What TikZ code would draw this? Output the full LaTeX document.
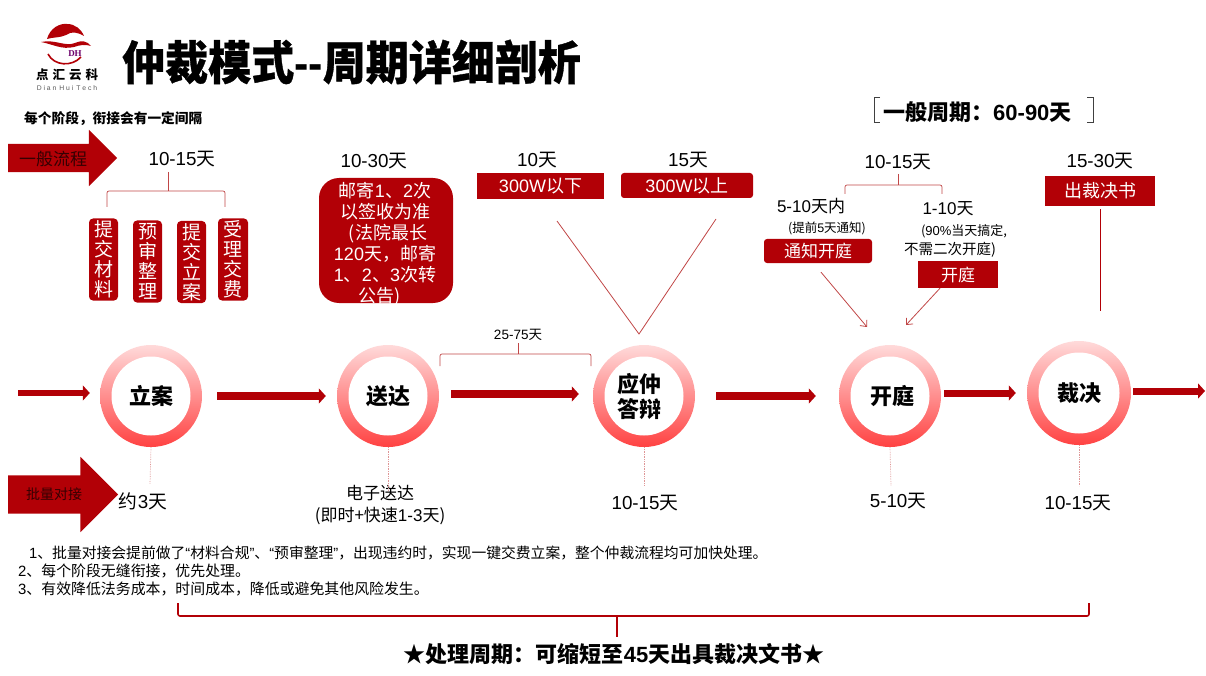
\documentclass[tikz,border=0pt]{standalone}
\usepackage{fontspec}
\setmainfont{Noto Sans CJK SC}
\newfontfamily\latn{Liberation Sans}
\newfontfamily\serifl{Liberation Serif}
\usetikzlibrary{arrows.meta,shapes.geometric,shapes.arrows,positioning}
\definecolor{darkred}{RGB}{178,0,6}
\definecolor{linered}{RGB}{192,70,70}
\definecolor{ringtop}{RGB}{255,218,218}
\definecolor{ringbot}{RGB}{255,66,66}
\definecolor{dotpink}{RGB}{222,150,150}
\newcommand{\fs}[1]{\fontsize{#1}{#1}\selectfont}
\newcommand{\nm}[1]{{\latn #1}}
\tikzset{
  ring/.style={shape=circle,inner sep=0pt,minimum size=102pt,top color=ringtop,bottom color=ringbot},
  hole/.style={shape=circle,inner sep=0pt,minimum size=79pt,fill=white,font=\fs{22}\bfseries,align=center},
  flow/.style={draw=darkred,line width=7pt,-{Triangle[width=15pt,length=7pt]}},
  redbox/.style={fill=darkred,text=white,inner sep=0pt,font=\fs{18}},
  vbox/.style={redbox,rounded corners=4pt,minimum width=29pt,minimum height=82pt,font=\fontsize{19}{20}\selectfont,align=center},
  days/.style={font=\fs{18.8}},
  brace/.style={draw=linered,line width=0.7pt,rounded corners=2pt},
  thin red/.style={draw=linered,line width=0.8pt},
  barb/.style={-{Straight Barb[length=5pt,width=9pt]}},
  dotted stem/.style={draw=dotpink,line width=0.7pt,densely dotted},
  note/.style={font=\fs{14.9},anchor=west,inner sep=0pt},
}
\begin{document}
\begin{tikzpicture}[x=1pt,y=-1pt]
\useasboundingbox (0,0) rectangle (1206,676);
% logo
\fill[darkred] (47,39) .. controls (50,28) and (60,23) .. (67,24) .. controls (75,24) and (81,29) .. (84,36) .. controls (77,32) and (72,31) .. (66,35) .. controls (60,38) and (53,37) .. (47,39) -- cycle;
\fill[darkred] (41,42) .. controls (55,39) and (65,47) .. (75,43) .. controls (82,40) and (87,41) .. (91,46) .. controls (85,44) and (80,45) .. (74,47) .. controls (62,50) and (52,44) .. (41,42) -- cycle;
\draw[darkred,line width=1.6pt] (48,54) .. controls (54,66) and (72,67) .. (81,57);
\node[inner sep=0pt] (dh) at (75,54) {\serifl\fs{9}\bfseries\color{darkred!60!blue}DH};
\node[inner sep=0pt] (logoname) at (67,75) {\fs{12.5}\bfseries 点\hspace{4pt}汇\hspace{4pt}云\hspace{4pt}科};
\node[inner sep=0pt] (logosub) at (67,88) {\latn\fs{6.8}\color{black!65}D i a n\, H u i\, T e c h};
% title
\node[anchor=west,inner sep=0pt,yscale=1.08] (title) at (122,62) {\fs{43}\bfseries\addfontfeature{FakeBold=0.8}仲裁模式{\latn -{}-}周期详细剖析};
\node[anchor=west,inner sep=0pt] (tip) at (24,119) {\fs{13.7}\bfseries 每个阶段，衔接会有一定间隔};
\node[anchor=west,inner sep=0pt] (cycle) at (883,112) {\fs{22}\bfseries 一般周期：\nm{60-90}天};
\draw[black!75,line width=0.8pt] (880,97) -- (874,97) -- (874,122) -- (880,122);
\draw[black!75,line width=0.8pt] (1087,97) -- (1093,97) -- (1093,122) -- (1087,122);
% big arrows
\node[shape=single arrow,fill=darkred,inner xsep=0pt,inner ysep=14pt,minimum height=109pt,minimum width=56pt,single arrow head extend=14pt] (general) at (55.5,158) {};
\node[font=\fs{17},text=black!70!darkred] (generaltxt) at (53,159) {一般流程};
\node[shape=single arrow,fill=darkred,inner xsep=0pt,inner ysep=19pt,minimum height=110pt,minimum width=75pt,single arrow head extend=18.5pt] (batch) at (53.5,494.5) {};
\node[font=\fs{14},text=black!70!darkred] (batchtxt) at (54,494) {批量对接};
% rings
\node[ring] (lian) at (151,396) {};
\node[hole] (lianin) at (lian) {\raisebox{2pt}{立案}};
\node[ring] (songda) at (388,396) {};
\node[hole] (songdain) at (songda) {\raisebox{2pt}{送达}};
\node[ring] (dabian) at (644,396) {};
\node[hole] (dabianin) at (dabian) {\hspace{-10pt}应仲\\[3pt]\hspace{-10pt}答辩};
\node[ring] (kaiting) at (890,396) {};
\node[hole] (kaitingin) at (kaiting) {\hspace{5pt}开庭};
\node[ring,minimum size=104pt] (caijue) at (1079,393) {};
\node[hole,minimum size=81pt] (caijuein) at (caijue) {裁决};
% flow arrows
\coordinate (startpt) at (18,393);
\coordinate (endpt) at (1205,391);
\draw[flow,line width=6pt] (startpt) -- ([shift={(-10,-3)}]lian.west);
\draw[flow,line width=8pt] ([shift={(15,0)}]lian.east) -- ([shift={(-11,0)}]songda.west);
\draw[flow,line width=8pt] ([shift={(12,-2)}]songda.east) -- ([shift={(-14,-2)}]dabian.west);
\draw[flow,line width=8pt] ([shift={(21,0)}]dabian.east) -- ([shift={(-23,0)}]kaiting.west);
\draw[flow] ([shift={(3,-3)}]kaiting.east) -- ([shift={(-11,0)}]caijue.west);
\draw[flow] ([shift={(2,-2)}]caijue.east) -- (endpt);
% first stage
\node[days] (filedays) at (182,159) {\nm{10-15}天};
\coordinate (filetop) at (168,172);
\draw[brace] (107,207) -- (107,191) -- (168,191) -- (225,191) -- (225,207);
\draw[brace] (filetop) -- (168,191);
\node[vbox] (submit) at (103.5,259.5) {提\\交\\材\\料};
\node[vbox] (review) at (147.5,261.5) {预\\审\\整\\理};
\node[vbox] (apply) at (191.5,262) {提\\交\\立\\案};
\node[vbox,minimum width=30pt] (fee) at (233,259.5) {受\\理\\交\\费};
% second stage
\node[days] (maildays) at (374,161) {\nm{10-30}天};
\fill[darkred,rounded corners=20pt] (319,178) rectangle (453,303);
\begin{scope}
\clip[rounded corners=20pt] (319,178) rectangle (453,303);
\node[text=white,font=\fontsize{18}{21}\selectfont,align=center,inner sep=0pt] (mailtxt) at (385,244) {邮寄\nm{1}、\nm{2}次\\以签收为准\\\hspace{6pt}(法院最长\\\nm{120}天，邮寄\\\nm{1}、\nm{2}、\nm{3}次转\\\hspace{-10pt}公告)};
\end{scope}
% third stage
\node[days] (lowdays) at (537,160) {\nm{10}天};
\node[days] (highdays) at (688,160) {\nm{15}天};
\node[redbox,minimum width=127pt,minimum height=26pt] (low) at (540.5,186) {\nm{300W}以下};
\node[redbox,rounded corners=3pt,minimum width=132pt,minimum height=25pt] (high) at (687,185.5) {\nm{300W}以上};
\coordinate (lowend) at (557,221);
\coordinate (vtip) at (639,334);
\coordinate (highend) at (716,219);
\draw[thin red] (lowend) -- (vtip) -- (highend);
\node[font=\fs{13.5}] (gapdays) at (518,335) {\nm{25-75}天};
\draw[brace] (440,366) -- (440,354) -- (591,354) -- (591,366);
\draw[brace] (518,343) -- (518,354);
% fourth stage
\node[days] (hearingdays) at (898,162) {\nm{10-15}天};
\draw[brace] (845,194) -- (845,185) -- (942,185) -- (942,194);
\draw[brace] (898,174) -- (898,185);
\node[font=\fs{17}] (noticedays) at (811,206) {\nm{5-10}天内};
\node[font=\fs{12.5}] (noticesub) at (827,228) {(提前\nm{5}天通知)};
\node[redbox,rounded corners=3pt,minimum width=108pt,minimum height=24pt,font=\fs{17}] (notice) at (818,251) {通知开庭};
\node[font=\fs{17}] (opendays) at (948,209) {\nm{1-10}天};
\node[font=\fs{13}] (opensub) at (964,231) {(\nm{90\%}当天搞定,};
\node[font=\fs{14.5}] (opensubb) at (950,250) {不需二次开庭)};
\node[redbox,minimum width=80pt,minimum height=27pt,font=\fs{17}] (open) at (958,274.5) {开庭};
\coordinate (noticeend) at (867,327);
\coordinate (openend) at (906,325);
\draw[thin red,barb] ([shift={(3,9)}]notice.south) -- (noticeend);
\draw[thin red,barb] ([shift={(-18,0)}]open.south) -- (openend);
% last stage
\node[days] (awarddays) at (1100,161) {\nm{15-30}天};
\node[redbox,minimum width=110pt,minimum height=30pt] (award) at (1100,191) {出裁决书};
\coordinate (awardend) at (1100,311);
\draw[draw=darkred,line width=0.8pt] ([yshift=-3pt]award.south) -- (awardend);
% stems and lower labels
\node[days] (liandays) at (143,501) {约\nm{3}天};
\node[font=\fs{17},align=center,inner sep=0pt] (songdadays) at (380,505) {电子送达\\[5pt](即时+快速\nm{1-3}天)};
\node[days] (dabiandays) at (645,503) {\nm{10-15}天};
\node[days] (kaitingdays) at (898,501) {\nm{5-10}天};
\node[days] (caijuedays) at (1078,503) {\nm{10-15}天};
\coordinate (lianstem) at (150,484);
\coordinate (songdastem) at (388,490);
\coordinate (dabianstem) at (644,486);
\coordinate (kaitingstem) at (891,486);
\coordinate (caijuestem) at (1079,486);
\draw[dotted stem] (lian.south) -- (lianstem);
\draw[dotted stem] (songda.south) -- (songdastem);
\draw[dotted stem] (dabian.south) -- (dabianstem);
\draw[dotted stem] (kaiting.south) -- (kaitingstem);
\draw[dotted stem] (caijue.south) -- (caijuestem);
% notes
\node[note,font=\fs{14.8}] (noteone) at (29,553) {\nm{1}、批量对接会提前做了\nm{“}材料合规\nm{”}、\nm{“}预审整理\nm{”}，出现违约时，实现一键交费立案，整个仲裁流程均可加快处理。};
\node[note] (notetwo) at (18,571) {\nm{2}、每个阶段无缝衔接，优先处理。};
\node[note] (notethree) at (18,589) {\nm{3}、有效降低法务成本，时间成本，降低或避免其他风险发生。};
\draw[draw=darkred,line width=1.6pt,rounded corners=2pt] (178,603) -- (178,616) -- (1089,616) -- (1089,603);
\draw[draw=darkred,line width=1.6pt] (617,616) -- (617,637);
\node[font=\fs{22}\bfseries,inner sep=0pt] (result) at (614,654) {★处理周期：可缩短至\nm{45}天出具裁决文书★};
\end{tikzpicture}
\end{document}
